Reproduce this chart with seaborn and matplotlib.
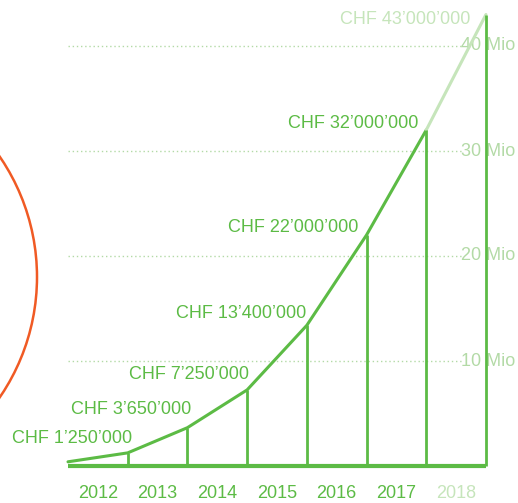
import matplotlib.pyplot as plt
from matplotlib.patches import Ellipse
import seaborn as sns
import pandas as pd

# funding per year end, in Mio CHF
years = ['2012', '2013', '2014', '2015', '2016', '2017', '2018']
start_value = 0.4
values = [1.25, 3.65, 7.25, 13.4, 22.0, 32.0, 43.0]
labels = ['CHF 1’250’000', 'CHF 3’650’000', 'CHF 7’250’000', 'CHF 13’400’000',
          'CHF 22’000’000', 'CHF 32’000’000', 'CHF 43’000’000']
grid_values = [10, 20, 30, 40]
grid_labels = ['10 Mio', '20 Mio', '30 Mio', '40 Mio']

green = '#5cbb45'
light = '#c6e5bb'
tick_col = '#b3daa6'
orange = '#f05a24'

sns.set_style('white')
plt.rcParams['font.family'] = ['Liberation Sans', 'DejaVu Sans']

PX_X = 59.71  # pixels per year
PX_Y = 10.5   # pixels per Mio
FS = 13

fig = plt.figure(figsize=(5.18, 5.03), dpi=100)
ax = fig.add_axes([0, 0, 1, 1])
ax.set_xlim(-68 / PX_X, 450 / PX_X)
ax.set_ylim(-37 / PX_Y, 466 / PX_Y)
ax.axis('off')

# dotted grid
for g, gl in zip(grid_values, grid_labels):
    ax.plot([0, 6.6], [g, g], color=tick_col, lw=1, ls=(0, (1, 2)), zorder=1)
    ax.text(6.58, g, gl, color=tick_col, fontsize=FS, ha='left', va='center', zorder=2)

# solid part of the curve (up to 2017)
df = pd.DataFrame({'x': list(range(0, 7)), 'v': [start_value] + values[:6]})
sns.lineplot(data=df, x='x', y='v', color=green, lw=2.2, ax=ax, zorder=3)
# projected 2018 segment
ax.plot([6, 7], values[5:7], color=light, lw=2.2, zorder=3)

# vertical year lines and baseline
for i, v in enumerate(values):
    ax.vlines(i + 1, 0, v, color=green, lw=2, zorder=3)
ax.hlines(0, 0, 7, color=green, lw=3, zorder=3)

# value labels, offsets in pixels (right edge / vertical centre)
offsets = [(4, 14), (4, 18), (2, 15), (-1, 12), (-8, 7), (-8, 7), (-16, -5)]
for i, (v, lab) in enumerate(zip(values, labels)):
    dx, dy = offsets[i]
    ax.text(i + 1 + dx / PX_X, v + dy / PX_Y, lab, color=light if i == 6 else green,
            fontsize=FS, ha='right', va='center', zorder=4)

# year labels
for i, y in enumerate(years):
    ax.text(i + 0.5, -28 / PX_Y, y, color=light if i == 6 else green, fontsize=FS,
            ha='center', va='center')

# orange circle on the left
ax.add_patch(Ellipse((-176 / 518, 1 - 277 / 503), 2 * 213 / 518, 2 * 213 / 503,
                     transform=ax.transAxes, fill=False, ec=orange, lw=1.8, clip_on=False))

fig.savefig('out.png', dpi=100)
